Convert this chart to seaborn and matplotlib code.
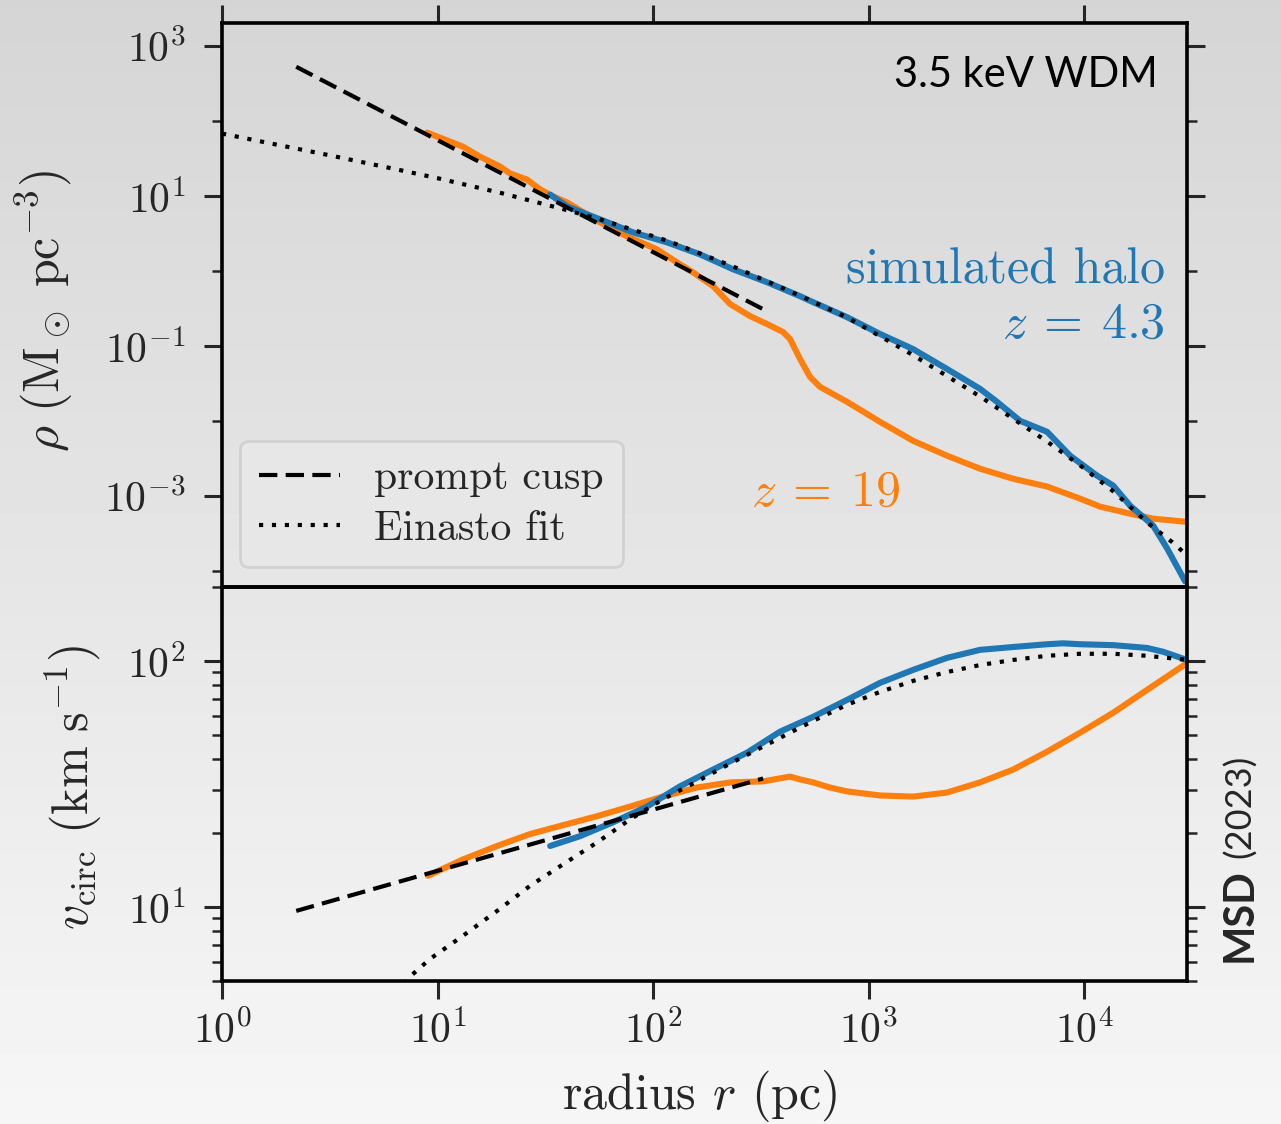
import numpy as np
import pandas as pd
import matplotlib
matplotlib.use("Agg")
import matplotlib.pyplot as plt
import matplotlib.ticker as mticker
import seaborn as sns

# ---------------- data ----------------
# prompt cusp (power law, two end points)
r_cusp = [2.21, 324]
rho_cusp = [526, 0.308]
vc_cusp = [9.64, 33.3]

# Einasto fit, density
r_ein_rho = [1.0, 3.16, 6.76, 10.0, 20.0, 39.8, 56.2, 117, 234, 479, 794, 1622,
             3311, 4677, 6761, 9550, 13800, 19500, 25700, 30200]
rho_ein = [67.6, 34.7, 21.9, 17.2, 10.8, 6.46, 4.90, 2.51, 1.15, 0.468, 0.240,
           0.0741, 0.0209, 0.0107, 0.00525, 0.00257, 0.00112, 0.000447,
           0.000240, 0.000158]

# Einasto fit, circular velocity
r_ein_v = [7.0, 7.45, 9.23, 13.1, 18.9, 26.9, 38.2, 55.0, 78.2, 111, 160, 228, 388,
           553, 795, 1130, 1608, 2312, 3289, 4686, 6735, 9575, 13640, 19590, 30000]
v_ein = [4.87, 5.21, 6.15, 7.63, 9.64, 12.2, 14.9, 18.3, 22.7, 27.4, 32.4, 38.3, 48.7,
         57.1, 66.4, 74.9, 83.0, 90.2, 96.3, 101, 105, 107, 107, 105, 101]

# simulated halo z = 19 (orange)
r_z19_rho = [8.94, 13.1, 15.7, 19.5, 21.7, 26.0, 29.9, 34.4, 39.9, 56.8, 75.7, 104,
             129, 153, 190, 228, 282, 338, 401, 432, 481, 535, 596, 795, 1130,
             1608, 2312, 3289, 4686, 6735, 9575, 11860, 16330, 20890, 30000]
rho_z19 = [69.7, 45.4, 33.4, 24.6, 19.9, 16.5, 12.2, 9.82, 8.17, 4.43, 2.88, 1.94,
           1.30, 0.957, 0.624, 0.360, 0.249, 0.195, 0.153, 0.123, 0.0667, 0.0385,
           0.0283, 0.0179, 0.00970, 0.00542, 0.00343, 0.00230, 0.00169, 0.00133,
           0.000918, 0.000718, 0.000579, 0.000497, 0.000450]

r_z19_v = [9.04, 13.1, 18.9, 26.9, 38.2, 55.0, 78.2, 111, 160, 228, 324, 432, 481,
           553, 660, 795, 1130, 1608, 2312, 3289, 4686, 6735, 9575, 13640, 19590,
           30000]
v_z19 = [13.4, 15.6, 17.7, 19.8, 21.5, 23.4, 25.6, 28.1, 30.6, 32.1, 32.4, 33.9,
         33.0, 32.1, 30.6, 29.5, 28.4, 28.1, 29.2, 32.1, 36.2, 42.8, 51.1, 61.6,
         76.3, 98.0]

# simulated halo z = 4.3 (blue)
r_z43_rho = [33.3, 39.9, 56.8, 80.7, 116, 165, 235, 338, 481, 553, 795, 1130, 1608,
             2312, 3289, 3945, 5047, 6735, 8610, 11480, 13640, 16330, 20890, 24270,
             29420]
rho_z43 = [10.4, 7.23, 4.85, 3.26, 2.40, 1.66, 1.05, 0.705, 0.459, 0.382, 0.241,
           0.144, 0.0906, 0.0491, 0.0267, 0.0179, 0.0100, 0.00714, 0.00343,
           0.00186, 0.00137, 0.000741, 0.000402, 0.000199, 0.0000723]

r_z43_v = [33.3, 45.8, 65.2, 93.8, 133, 190, 273, 388, 553, 795, 1130, 1608,
           2312, 3289, 4686, 6735, 7980, 9575, 13640, 19590, 23280, 30000]
v_z43 = [17.7, 19.4, 22.1, 25.6, 30.9, 36.2, 42.4, 51.6, 59.3, 69.5, 81.5,
         92.0, 103, 111, 114, 117, 118, 117, 116, 113, 109, 101]

legend_labels = ["prompt cusp", "Einasto fit"]
x_ticks = [1, 10, 100, 1000, 10000]
rho_major = [1e-3, 1e-1, 1e1, 1e3]
rho_minor = [1e-4, 1e-2, 1e0, 1e2]

BLUE = "#1f77b4"
ORANGE = "#ff7f0e"

# ---------------- style ----------------
sns.set_style("ticks")
plt.rcParams["font.family"] = ["cmr10", "DejaVu Serif"]
plt.rcParams["mathtext.fontset"] = "cm"
plt.rcParams["axes.formatter.use_mathtext"] = True
plt.rcParams["axes.unicode_minus"] = True

fig = plt.figure(figsize=(12.81, 11.24), dpi=100)

# background gradient
bg = fig.add_axes([0, 0, 1, 1], zorder=-10)
grad = np.linspace(0.835, 0.965, 256).reshape(-1, 1)
bg.imshow(grad, aspect="auto", cmap="gray", vmin=0, vmax=1,
          extent=[0, 1, 0, 1], origin="upper")
bg.set_axis_off()

L, W = 0.1733, 0.7533
ax1 = fig.add_axes([L, 0.4778, W, 0.5015])
ax2 = fig.add_axes([L, 0.1272, W, 0.3506], sharex=ax1)
for ax in (ax1, ax2):
    ax.set_facecolor("none")

LW_C = 4.4
LW_K = 3.0
DASH = (0, (4.4, 2.0))
DOT = (0, (1.0, 2.1))

# --- top panel: density ---
sns.lineplot(x=r_z19_rho, y=rho_z19, ax=ax1, color=ORANGE, lw=LW_C,
             sort=False, estimator=None)
sns.lineplot(x=r_z43_rho, y=rho_z43, ax=ax1, color=BLUE, lw=LW_C,
             sort=False, estimator=None)
sns.lineplot(x=r_cusp, y=rho_cusp, ax=ax1, color="black", lw=LW_K,
             linestyle=DASH, sort=False, estimator=None)
sns.lineplot(x=r_ein_rho, y=rho_ein, ax=ax1, color="black", lw=LW_K,
             linestyle=DOT, sort=False, estimator=None)

# --- bottom panel: circular velocity ---
sns.lineplot(x=r_z19_v, y=v_z19, ax=ax2, color=ORANGE, lw=LW_C,
             sort=False, estimator=None)
sns.lineplot(x=r_z43_v, y=v_z43, ax=ax2, color=BLUE, lw=LW_C,
             sort=False, estimator=None)
sns.lineplot(x=r_cusp, y=vc_cusp, ax=ax2, color="black", lw=LW_K,
             linestyle=DASH, sort=False, estimator=None)
sns.lineplot(x=r_ein_v, y=v_ein, ax=ax2, color="black", lw=LW_K,
             linestyle=DOT, sort=False, estimator=None)

for ax in (ax1, ax2):
    ax.set_xscale("log")
    ax.set_yscale("log")
    for s in ax.spines.values():
        s.set_visible(True)
        s.set_linewidth(2.6)
        s.set_color("black")

ax1.set_xlim(1, 3e4)
ax1.set_ylim(6.1e-5, 2.0e3)
ax2.set_ylim(5, 200)

FS_TICK = 30
# x ticks
ax2.xaxis.set_major_locator(mticker.FixedLocator(x_ticks))
ax2.xaxis.set_major_formatter(mticker.LogFormatterSciNotation())
ax2.xaxis.set_minor_locator(mticker.NullLocator())
ax1.xaxis.set_minor_locator(mticker.NullLocator())
ax1.tick_params(axis="x", which="both", bottom=False, top=True, labelbottom=False,
                labeltop=False, direction="out", length=13, width=2.2)
ax2.tick_params(axis="x", which="both", bottom=True, top=False, labelbottom=True,
                direction="out", length=13, width=2.2, labelsize=FS_TICK, pad=8)

# top y ticks
ax1.yaxis.set_major_locator(mticker.FixedLocator(rho_major))
ax1.yaxis.set_minor_locator(mticker.FixedLocator(rho_minor))
ax1.yaxis.set_major_formatter(mticker.LogFormatterSciNotation())
ax1.yaxis.set_minor_formatter(mticker.NullFormatter())
# bottom y ticks
ax2.yaxis.set_major_locator(mticker.LogLocator(base=10))
ax2.yaxis.set_minor_locator(mticker.LogLocator(base=10, subs=np.arange(2, 10)))
ax2.yaxis.set_major_formatter(mticker.LogFormatterSciNotation())
ax2.yaxis.set_minor_formatter(mticker.NullFormatter())

for ax in (ax1, ax2):
    ax.tick_params(axis="y", which="major", left=True, right=True, direction="out",
                   length=13, width=2.2, labelsize=FS_TICK, pad=13)
    ax.tick_params(axis="y", which="minor", left=True, right=True, direction="out",
                   length=7, width=1.8)

# labels
FS_LAB = 36
ax1.set_ylabel(r"$\rho\ (\mathrm{M}_\odot\ \mathrm{pc}^{-3})$", fontsize=FS_LAB)
ax1.yaxis.set_label_coords(-0.152, 0.49)
ax2.set_ylabel(r"$v_\mathrm{circ}\ (\mathrm{km\ s}^{-1})$", fontsize=FS_LAB)
ax2.yaxis.set_label_coords(-0.122, 0.49)
ax2.set_xlabel(r"radius $r$ (pc)", fontsize=FS_LAB)
ax2.xaxis.set_label_coords(0.495, -0.22)

# legend
handles = [ax1.lines[2], ax1.lines[3]]
leg = ax1.legend(handles, legend_labels, loc="lower left",
                 bbox_to_anchor=(0.019, 0.036), borderaxespad=0, fontsize=30,
                 handlelength=1.95, handletextpad=0.82, labelspacing=0.32,
                 borderpad=0.45, frameon=True, fancybox=True)
leg.get_frame().set_facecolor("#e8e8e8")
leg.get_frame().set_edgecolor("#cfcfcf")
leg.get_frame().set_linewidth(2.0)
leg.get_frame().set_alpha(0.9)

# annotations
ax1.text(0.970, 0.908, "3.5 keV WDM", transform=ax1.transAxes, ha="right",
         va="center", fontsize=30, family=["Lato", "DejaVu Sans"], color="black")
ax1.text(0.977, 0.562, "simulated halo", transform=ax1.transAxes, ha="right",
         va="center", fontsize=36, color=BLUE)
ax1.text(0.977, 0.466, r"$z\:=\:4.3$", transform=ax1.transAxes, ha="right",
         va="center", fontsize=36, color=BLUE)
ax1.text(0.625, 0.167, r"$z\:=\:19$", transform=ax1.transAxes, ha="center",
         va="center", fontsize=36, color=ORANGE)

# credit, rotated at right side
fig.text(0.968, 1 - 962 / 1124, "MSD", rotation=90, ha="center", va="bottom",
         fontsize=30, fontweight="bold", family=["Lato", "DejaVu Sans"])
fig.text(0.968, 1 - 755 / 1124, "(2023)", rotation=90, ha="center", va="top",
         fontsize=26, family=["Lato", "DejaVu Sans"])

fig.savefig("out.png", dpi=100, facecolor=fig.get_facecolor())
